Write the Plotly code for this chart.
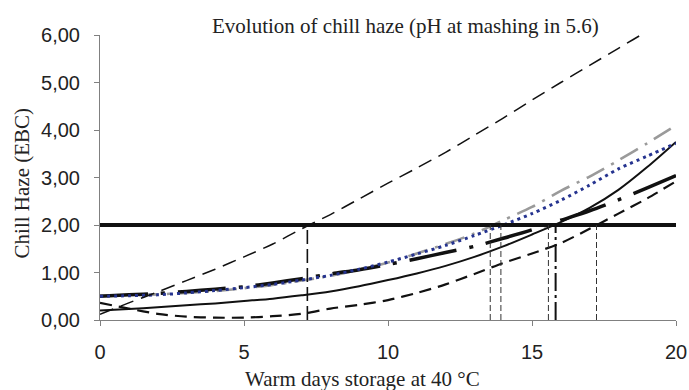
import plotly.graph_objects as go

# Warm days (x) sampled for each curve
days = [0, 1, 2, 3, 4, 5, 6, 7, 8, 9, 10, 11, 12, 13, 14, 15, 16, 17, 18, 19, 20]

haze_upper_dash = [0.12, 0.36, 0.59, 0.83, 1.07, 1.33, 1.6, 1.92, 2.22, 2.55, 2.88, 3.2, 3.53, 3.89, 4.25, 4.63, 5.0, 5.36, 5.72, 6.08, 6.45]
haze_gray_dashdot = [0.51, 0.52, 0.54, 0.57, 0.61, 0.67, 0.74, 0.83, 0.93, 1.06, 1.21, 1.4, 1.6, 1.82, 2.1, 2.38, 2.72, 3.02, 3.36, 3.72, 4.1]
haze_blue_dot = [0.5, 0.51, 0.53, 0.57, 0.62, 0.68, 0.75, 0.84, 0.94, 1.07, 1.22, 1.39, 1.57, 1.78, 2.0, 2.24, 2.52, 2.84, 3.18, 3.45, 3.72]
haze_solid = [0.2, 0.23, 0.27, 0.31, 0.35, 0.4, 0.45, 0.52, 0.6, 0.71, 0.84, 0.98, 1.14, 1.33, 1.55, 1.8, 2.06, 2.36, 2.74, 3.22, 3.75]
haze_thick_dashdot = [0.5, 0.53, 0.56, 0.6, 0.65, 0.7, 0.78, 0.87, 0.97, 1.06, 1.17, 1.29, 1.42, 1.55, 1.72, 1.9, 2.1, 2.3, 2.53, 2.78, 3.04]
haze_lower_dash = [0.36, 0.24, 0.13, 0.07, 0.05, 0.05, 0.08, 0.13, 0.24, 0.32, 0.42, 0.57, 0.75, 0.97, 1.2, 1.4, 1.62, 1.92, 2.24, 2.56, 2.92]

threshold = 2.0
threshold_days = [0, 20]
cross_days_main = [7.2]
cross_days_thin = [13.55, 13.92, 15.57, 17.24]
cross_days_dashdot = [15.82]

y_ticks = [0, 1, 2, 3, 4, 5, 6]
y_tick_labels = ["0,00", "1,00", "2,00", "3,00", "4,00", "5,00", "6,00"]
x_ticks = [0, 5, 10, 15, 20]

title_text = "Evolution of chill haze (pH at mashing in 5.6)"
x_title = "Warm days storage at 40 °C"
y_title = "Chill Haze (EBC)"

fig = go.Figure()

series = [
    (haze_lower_dash, dict(color="#111111", width=2.2, dash="12px,7px")),
    (haze_solid, dict(color="#111111", width=2, dash="solid")),
    (haze_gray_dashdot, dict(color="#9a9a9a", width=2.6, dash="20px,8px,3px,8px")),
    (haze_thick_dashdot, dict(color="#111111", width=3.5, dash="48px,13px,4px,13px")),
    (haze_blue_dot, dict(color="#25338f", width=3, dash="3px,4px")),
    (haze_upper_dash, dict(color="#111111", width=1.5, dash="14px,8px")),
]
for ys, ln in series:
    fig.add_trace(go.Scatter(x=days, y=ys, mode="lines",
                             line=dict(shape="spline", smoothing=0.8, **ln),
                             showlegend=False, hoverinfo="skip"))

# threshold horizontal line
fig.add_trace(go.Scatter(x=threshold_days, y=[threshold, threshold], mode="lines",
                         line=dict(color="#111111", width=4), showlegend=False))

for d in cross_days_main:
    fig.add_trace(go.Scatter(x=[d, d], y=[0, threshold], mode="lines",
                             line=dict(color="#111111", width=1.6, dash="14px,5px"), showlegend=False))
for d in cross_days_thin:
    fig.add_trace(go.Scatter(x=[d, d], y=[0, threshold], mode="lines",
                             line=dict(color="#333333", width=1, dash="6px,3px"), showlegend=False))
for d in cross_days_dashdot:
    fig.add_trace(go.Scatter(x=[d, d], y=[0, threshold], mode="lines",
                             line=dict(color="#111111", width=2, dash="18px,4px,3px,4px"), showlegend=False))

serif = dict(family="Liberation Serif", size=21, color="#222")

fig.update_layout(
    width=689, height=390,
    margin=dict(l=100, r=13, t=35, b=70),
    paper_bgcolor="white", plot_bgcolor="white",
    xaxis=dict(range=[0, 20], tickvals=x_ticks, showgrid=False, zeroline=False,
               showline=True, linecolor="#808080", linewidth=1,
               ticks="outside", ticklen=5, tickcolor="#808080", automargin=False,
               ticklabelstandoff=9,
               tickfont=dict(family="Liberation Sans", size=20, color="#222")),
    yaxis=dict(range=[0, 6], tickvals=y_ticks, ticktext=y_tick_labels, showgrid=False,
               zeroline=False, showline=True, linecolor="#808080", linewidth=1,
               ticks="outside", ticklen=5, tickcolor="#808080", automargin=False,
               ticklabelstandoff=10,
               tickfont=dict(family="Liberation Sans", size=20, color="#222")),
    annotations=[
        dict(text=title_text, xref="paper", yref="paper", x=0.53, y=1.032,
             xanchor="center", yanchor="middle", showarrow=False, font=serif),
        dict(text=x_title, xref="paper", yref="paper", x=0.455, y=-0.207,
             xanchor="center", yanchor="middle", showarrow=False, font=serif),
        dict(text=y_title, xref="paper", yref="paper", x=-0.135, y=0.48,
             xanchor="center", yanchor="middle", showarrow=False, textangle=-90, font=serif),
    ],
)

fig.write_html("out.html")
